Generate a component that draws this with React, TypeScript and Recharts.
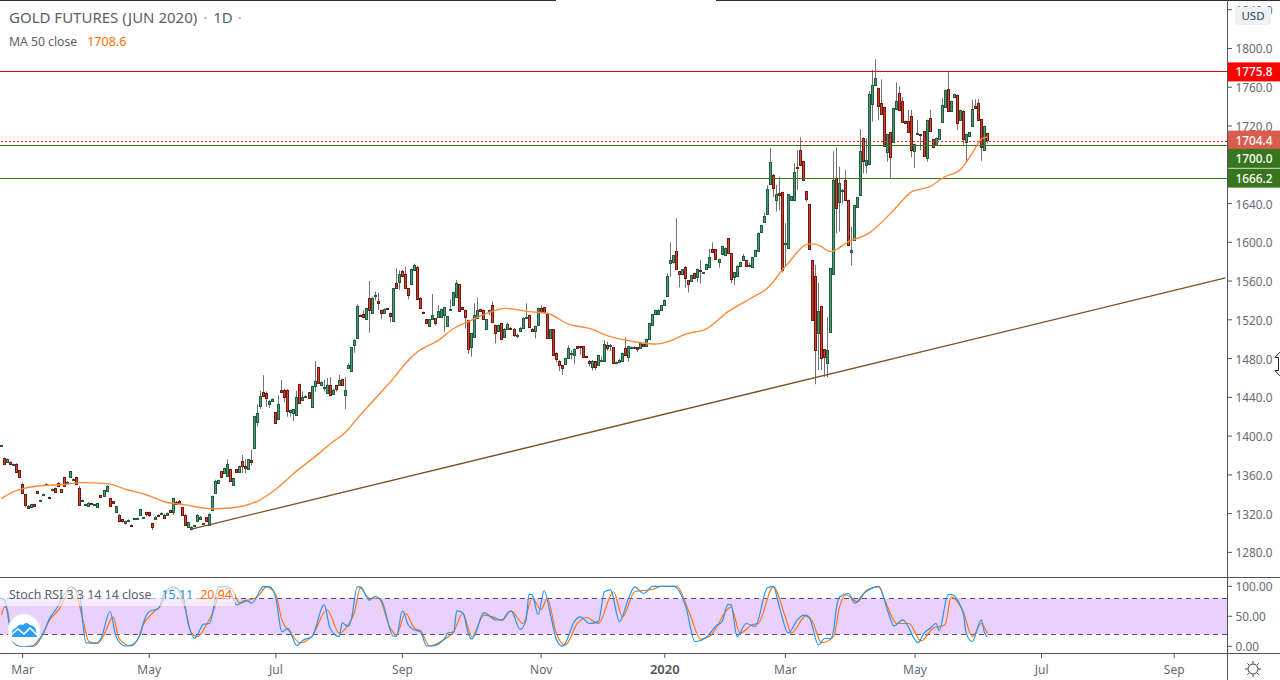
import {
  Bar,
  ComposedChart,
  Line,
  ReferenceArea,
  ReferenceLine,
  XAxis,
  YAxis,
} from "recharts";

const font = '"Noto Sans", sans-serif';
const axisGrey = "#666974";
const borderGrey = "#50535e";

// daily candles
const opens = [
  1389.8, 1377, 1373.5, 1373, 1370, 1371, 1364.6, 1351, 1340, 1328,
  1327, 1329.5, 1343, 1333.5, 1339.6, 1349.5, 1337, 1344.6, 1346.8, 1352,
  1345, 1357.4, 1352.6, 1358, 1355.6, 1357.4, 1346, 1333.6, 1329.2, 1328,
  1331, 1329.2, 1327, 1339, 1338.5, 1343.7, 1335.8, 1332.7, 1322, 1319,
  1314, 1310.6, 1313, 1308.6, 1314.6, 1314.6, 1319, 1315.6, 1321.3, 1321.3,
  1310, 1314.8, 1319, 1320.6, 1319, 1318.6, 1323.4, 1322, 1332.3, 1332.7,
  1326.5, 1319, 1306.5, 1303.8, 1307.6, 1312, 1314.8, 1309.6, 1316, 1308,
  1323.7, 1341.6, 1352, 1363.6, 1362, 1359, 1365.7, 1350, 1365.7, 1362.6,
  1374, 1368.8, 1366.4, 1375, 1387.4, 1415, 1431.4, 1446, 1444, 1433.4,
  1436, 1424.5, 1417.3, 1448, 1448, 1448, 1424.8, 1424, 1421.4, 1453.4,
  1436.9, 1441.3, 1445, 1429.6, 1451.3, 1470.9, 1453, 1450.2, 1444.8, 1452.4,
  1443.7, 1452.4, 1453, 1458.5, 1442.7, 1470.2, 1466.8, 1494.3, 1500.9, 1524.8,
  1525.6, 1520.5, 1542, 1526.7, 1545.6, 1539, 1529.7, 1526.7, 1531.8, 1526.7,
  1518.4, 1557.6, 1558.7, 1570, 1566.9, 1552.5, 1556.6, 1571.4, 1574.8, 1543,
  1527.9, 1520.5, 1513.2, 1521, 1521.5, 1523.2, 1523.2, 1524.6, 1513.2, 1531,
  1535, 1544, 1556.6, 1532.8, 1529.8, 1519.4, 1492.3, 1502.6, 1521.5, 1530.8,
  1529.8, 1510.8, 1529.4, 1535, 1514.3, 1508.8, 1516.3, 1502, 1511, 1512,
  1511, 1503.6, 1508, 1512, 1522.1, 1524.6, 1511, 1508, 1514.3, 1531.8,
  1532.8, 1525.6, 1501.5, 1510, 1486, 1477.8, 1473, 1474.7, 1480.9, 1485.5,
  1484, 1492.6, 1492.6, 1492.6, 1482.3, 1478, 1471, 1477, 1473, 1478.6,
  1478, 1493.6, 1493.2, 1491.5, 1475.6, 1476, 1478, 1490.5, 1482, 1491.6,
  1491.6, 1491.5, 1490.5, 1494.6, 1492.6, 1499.8, 1514.6, 1526.3, 1526.3, 1529.7,
  1535.2, 1544.2, 1578.2, 1579.3, 1590.6, 1570, 1566.9, 1575, 1560.7, 1559.7,
  1567.9, 1563.8, 1571, 1568.6, 1572, 1574, 1592.7, 1592.7, 1579.3, 1587.5,
  1586.5, 1604, 1588.6, 1563.8, 1564.8, 1575.8, 1581.3, 1581.3, 1576.6, 1575,
  1585.5, 1590.6, 1610.2, 1620.5, 1628.9, 1660.5, 1669.8, 1643.4, 1650.6, 1651.6,
  1599.4, 1594.5, 1643.4, 1643.4, 1677.8, 1695, 1683.6, 1652.6, 1639.2, 1581.4,
  1565, 1506, 1534, 1489.6, 1475, 1507.8, 1567, 1665, 1642, 1653.6,
  1664, 1643.4, 1589.7, 1602.8, 1636, 1648.5, 1707.3, 1679.5, 1680.5, 1742.4,
  1762, 1759, 1743.5, 1739.3, 1692.9, 1713.5, 1703.2, 1737.3, 1753.8, 1745.5,
  1724.9, 1724.9, 1730, 1694, 1712.1, 1711.5, 1714.6, 1686.7, 1728, 1706.3,
  1700, 1706.3, 1723.9, 1739.3, 1757.9, 1735.2, 1749.6, 1751.7, 1725.9, 1735.2,
  1703.2, 1709.4, 1719.7, 1740.4, 1743.5, 1726.9, 1695, 1712.5,
];
const closes = [
  1390.4, 1371, 1376, 1371.5, 1371, 1363, 1358, 1341.6, 1329, 1326,
  1329.6, 1328, 1341.6, 1334, 1340, 1351, 1336.5, 1345, 1342.6, 1348.8,
  1342.6, 1348.8, 1353, 1363.6, 1356, 1351, 1329, 1334, 1329.6, 1331,
  1330, 1329.6, 1330.6, 1337, 1344, 1349, 1328, 1331, 1327.5, 1312.7,
  1312, 1312, 1313.4, 1308.2, 1315, 1315, 1324.4, 1316, 1320, 1318.6,
  1306.5, 1317, 1318.6, 1321, 1315.8, 1320.3, 1322, 1335.8, 1329.6, 1330.6,
  1318.9, 1308.6, 1311, 1306.5, 1308, 1318.2, 1317, 1310, 1312.7, 1320,
  1337.8, 1353.3, 1354.3, 1358, 1366.7, 1370.8, 1354, 1356.4, 1362.6, 1368.8,
  1369.5, 1367.4, 1376, 1373.6, 1420.7, 1423.5, 1441.4, 1441.7, 1439, 1436,
  1438.3, 1414, 1432.7, 1446, 1440.6, 1426, 1426.5, 1427.6, 1440, 1434.5,
  1440.3, 1441.7, 1439, 1451.3, 1456.5, 1454.4, 1455.8, 1450.6, 1452.4, 1442.7,
  1448, 1449, 1457.5, 1453, 1448, 1473, 1491.6, 1499, 1533.9, 1524.6,
  1523.2, 1531.8, 1529.8, 1543, 1546, 1537.7, 1526.7, 1530.8, 1530.8, 1523.6,
  1552.5, 1552.5, 1566.9, 1564.8, 1552.5, 1545.2, 1572, 1576.2, 1541, 1531.8,
  1527.7, 1516.3, 1520.5, 1524.6, 1517, 1528.7, 1530.8, 1532.8, 1523.6, 1531.5,
  1548.3, 1557.6, 1528.7, 1531.5, 1523.2, 1489.5, 1506, 1524.6, 1529.8, 1529.4,
  1521, 1520.5, 1529.8, 1518, 1506, 1514.3, 1500.5, 1511, 1515.3, 1510,
  1504.6, 1504, 1512, 1521.5, 1522.5, 1512.9, 1508, 1513.2, 1531.8, 1528.4,
  1528.4, 1500.9, 1510, 1483.3, 1480, 1473.7, 1470.6, 1480.2, 1490.5, 1485.7,
  1489.5, 1491.2, 1491.8, 1481.2, 1481.2, 1475, 1478, 1471, 1483.3, 1479,
  1494.6, 1490.5, 1493.6, 1475.7, 1476, 1479, 1485.4, 1483.3, 1492.6, 1492,
  1492, 1489.5, 1495.6, 1492.6, 1499.8, 1516.3, 1525.6, 1529.7, 1530.4, 1534.9,
  1540, 1564.8, 1581.3, 1586.5, 1572, 1566.9, 1572, 1562.8, 1556.6, 1565.9,
  1562.8, 1572, 1570, 1569, 1577.2, 1584.4, 1589.6, 1582.4, 1582.4, 1595.8,
  1593.7, 1588.6, 1561.7, 1569, 1576, 1579.3, 1585.5, 1576, 1577, 1584.4,
  1591.7, 1609.2, 1617.5, 1626.7, 1654.7, 1682.6, 1655.7, 1649.5, 1648.5, 1571.8,
  1599.7, 1649.5, 1647.5, 1672.2, 1676.4, 1679.5, 1664, 1645, 1593.5, 1519.5,
  1488.6, 1528.8, 1480.3, 1482, 1488.5, 1573.2, 1664, 1635, 1660.9, 1654,
  1643.4, 1596.9, 1591.8, 1638.2, 1646.4, 1693.9, 1683.6, 1684.6, 1752.7, 1762,
  1769.3, 1740.4, 1732, 1699, 1711.5, 1687.7, 1738.3, 1745.5, 1736.2, 1723.9,
  1722.8, 1713.5, 1695, 1701.1, 1712.5, 1711.1, 1688.8, 1725.9, 1714.6, 1698,
  1707.3, 1716.6, 1741.4, 1756.9, 1735.2, 1745.5, 1752.7, 1722.8, 1736.2, 1706.3,
  1711.5, 1713.5, 1737.3, 1738.3, 1725.9, 1698, 1719.7, 1705.3,
];
const highs = [
  1391, 1378, 1377, 1374, 1371.5, 1372, 1365, 1352, 1340.5, 1328.5,
  1330, 1330, 1343.5, 1334.5, 1340.5, 1351.5, 1337.5, 1346, 1347, 1352.5,
  1345.5, 1358, 1353.5, 1364, 1356.5, 1358, 1348.5, 1334.5, 1330, 1332,
  1331.5, 1330, 1331, 1339.5, 1344.5, 1349.5, 1336.5, 1333, 1328, 1319.5,
  1314.5, 1313, 1314, 1309, 1315.5, 1315.5, 1325, 1316.5, 1322, 1322,
  1310.5, 1317.5, 1319.5, 1321.5, 1319.5, 1321, 1324, 1336.5, 1333, 1334,
  1327, 1319.5, 1311.5, 1307, 1308.5, 1319.5, 1317.5, 1310.5, 1316.5, 1320.5,
  1338.5, 1355, 1355, 1364, 1367.5, 1376, 1366.5, 1357, 1366, 1369.5,
  1380.5, 1376, 1376.5, 1386, 1421, 1433, 1446.8, 1463, 1446, 1437,
  1439, 1425, 1442, 1457.9, 1449, 1448.5, 1427, 1428, 1446.5, 1454,
  1446, 1442.5, 1445.5, 1452, 1477.5, 1471.5, 1456.5, 1458, 1460, 1461,
  1449, 1453, 1463, 1459, 1461, 1475, 1492, 1500, 1536, 1525.5,
  1530, 1532.5, 1560, 1544, 1549, 1548, 1530.5, 1532, 1532.5, 1527.5,
  1553, 1573, 1571, 1571.5, 1574.8, 1553, 1573, 1578, 1575.5, 1543.5,
  1528.5, 1521, 1521, 1546.6, 1522, 1535, 1531.5, 1533.5, 1524, 1541,
  1549, 1561, 1557, 1533.5, 1530.5, 1520, 1506.5, 1537, 1542.8, 1531.5,
  1530.5, 1521, 1530.5, 1539, 1515, 1515, 1517, 1511.5, 1517, 1512.5,
  1511.5, 1505.5, 1512.5, 1522.5, 1537, 1525.5, 1511.5, 1514, 1532.5, 1535,
  1533.5, 1526, 1510.5, 1510.5, 1486.5, 1478.5, 1473.5, 1481, 1493.5, 1488.8,
  1490.5, 1493, 1493, 1493, 1483, 1478.5, 1478.5, 1477.5, 1484, 1482,
  1499, 1497.4, 1495, 1492, 1477, 1479.5, 1486, 1501.9, 1493, 1492.5,
  1492.5, 1492, 1496.5, 1495, 1500.5, 1517, 1526, 1530.5, 1531, 1535.5,
  1541, 1568, 1599.9, 1587, 1624.7, 1570.5, 1572.5, 1575.5, 1561, 1566.5,
  1568.5, 1573, 1581.7, 1569.5, 1578, 1593, 1599.9, 1593, 1583, 1596.5,
  1594.5, 1604.5, 1589, 1569.5, 1576.5, 1580, 1588, 1582, 1579, 1585,
  1592.5, 1610, 1618, 1631, 1659, 1697, 1670.5, 1659, 1667.8, 1652,
  1619.6, 1650, 1648, 1681.5, 1695, 1708.4, 1684, 1653, 1639.7, 1582,
  1576.6, 1558, 1534.5, 1490, 1523, 1573.7, 1694, 1698, 1678, 1655,
  1674.5, 1644, 1616, 1639, 1647, 1716.6, 1708, 1707, 1756, 1778,
  1788.9, 1759.5, 1768, 1740, 1712, 1714, 1739, 1765, 1761, 1750,
  1725.5, 1736.6, 1736.6, 1702, 1726, 1712, 1715, 1726.5, 1736.6, 1707,
  1708, 1717, 1748.6, 1757.5, 1776, 1746, 1753.5, 1752.5, 1737, 1736,
  1712, 1714, 1747, 1747.6, 1748, 1727.5, 1720.5, 1713,
];
const lows = [
  1389.5, 1370, 1372.5, 1371, 1369.5, 1362, 1357, 1341, 1326.5, 1325.5,
  1326.5, 1327.5, 1341, 1333, 1339, 1349, 1336, 1343, 1342, 1348,
  1342, 1348, 1352, 1357.5, 1355, 1350.5, 1328.5, 1333, 1328, 1327,
  1329.5, 1329, 1326.5, 1336.5, 1338, 1343, 1327.5, 1330.5, 1321.5, 1311,
  1310.5, 1308.6, 1312.5, 1306, 1314, 1314, 1318.5, 1315, 1317, 1316.8,
  1303, 1314, 1318, 1320, 1315, 1318, 1321.5, 1318.6, 1329, 1330,
  1318, 1308, 1306, 1302.4, 1306.5, 1311.5, 1314, 1309, 1312, 1307.5,
  1323, 1341, 1351.5, 1357.5, 1361, 1358.5, 1353.5, 1349.5, 1362, 1362,
  1362, 1361.6, 1366, 1370, 1387, 1409.7, 1428, 1441, 1430, 1429,
  1435.5, 1413.5, 1417, 1445.5, 1435, 1420, 1420, 1415.5, 1421, 1434,
  1436, 1440.5, 1438.5, 1429, 1446, 1454, 1452, 1446, 1444, 1442,
  1443, 1446, 1452, 1452.5, 1428, 1469, 1466.5, 1486, 1500.5, 1524,
  1522.5, 1520, 1506.7, 1526, 1540, 1530, 1520.5, 1526, 1530, 1517.4,
  1518, 1552, 1551, 1564, 1552, 1541, 1556, 1571, 1540.5, 1531,
  1527, 1515.5, 1512.5, 1520.5, 1514, 1522.5, 1522.5, 1507.7, 1512.5, 1530.5,
  1534.5, 1543.5, 1528, 1531, 1511, 1484.7, 1482, 1502, 1521, 1529,
  1520.5, 1510, 1525, 1517.5, 1495.7, 1508, 1499, 1501.5, 1510.5, 1509.5,
  1502, 1501, 1507.5, 1511.5, 1521, 1512.5, 1507.5, 1500.9, 1514, 1528,
  1528, 1500.5, 1501, 1483, 1476, 1467, 1463, 1474, 1480.5, 1479,
  1474, 1490, 1484, 1480.5, 1480.5, 1472, 1467.5, 1468, 1472.5, 1478,
  1477.5, 1488, 1488, 1475, 1474, 1475.5, 1477.5, 1483, 1477, 1491,
  1491, 1487, 1490, 1492, 1492, 1499.5, 1514, 1525.5, 1526, 1529,
  1534.5, 1544, 1564.5, 1578, 1571.5, 1553.5, 1566, 1553, 1548.3, 1559,
  1562, 1559, 1557.6, 1568, 1571.5, 1573.5, 1589, 1582, 1573.8, 1587,
  1586, 1588, 1557.5, 1555.9, 1564, 1575, 1581, 1575.5, 1576, 1574.5,
  1585, 1590, 1609.5, 1620, 1628.5, 1660, 1647, 1631.7, 1633, 1568.7,
  1575, 1594, 1643, 1643, 1654, 1679, 1663.5, 1642, 1593, 1519,
  1453.5, 1468, 1468, 1461, 1460.7, 1507.5, 1566.5, 1609, 1611, 1640,
  1643, 1596.5, 1576, 1602, 1635.5, 1648, 1671, 1671, 1680, 1724.5,
  1761.5, 1726, 1731.5, 1698.5, 1683, 1666.7, 1702.5, 1737, 1735.5, 1723.5,
  1722, 1713, 1687.7, 1676.4, 1711.5, 1695, 1688, 1683, 1714, 1697.5,
  1699.5, 1706, 1723.5, 1739, 1735, 1734.5, 1749, 1716, 1725.5, 1700.5,
  1683, 1709, 1719, 1738, 1725.5, 1684, 1694.5, 1702,
];

// MA 50, read at the bars listed in maBars
const maBars = [0, 4, 8, 14, 21, 26, 35, 42, 48, 54, 61, 70, 76, 85, 92, 97, 104, 109, 115, 118, 122, 126, 130, 134, 138, 145, 150, 156, 161, 167, 175, 181, 188, 195, 202, 210, 217, 221, 227, 234, 241, 249, 254, 260, 268, 271, 275, 281, 288, 296, 302, 308, 313, 318, 322, 325, 327];
const maValues = [1335.4, 1342.6, 1346.4, 1349, 1350, 1352, 1351, 1344.4, 1339.5, 1332.3, 1329, 1325, 1325.8, 1333, 1347.8, 1361.6, 1378.8, 1391.8, 1406.9, 1418.3, 1432, 1445.8, 1459.6, 1475, 1487, 1499, 1511, 1519.8, 1526.7, 1531.8, 1528.4, 1526.7, 1515.6, 1511.2, 1502.6, 1497.4, 1495, 1497.4, 1505.3, 1511, 1528.4, 1543, 1552.5, 1574.9, 1598.3, 1597, 1590.4, 1600.7, 1610, 1633.4, 1652.3, 1657.5, 1667.8, 1674.7, 1691.9, 1706.3, 1708.6];

// trend line ends
const trendBars = [63, 406];
const trendValues = [1304, 1563.2];

// Stoch RSI, %K and %D read at their turning points
const kBars = [0, 1, 2, 3, 4, 6, 10, 12, 14, 16, 18, 21, 23, 26, 27, 28, 31, 33, 36, 38, 41, 43, 46, 47, 49, 52, 54, 57, 60, 62, 64, 65, 67, 69, 72, 75, 78, 81, 83, 87, 89, 91, 93, 95, 98, 100, 103, 107, 109, 112, 113, 115, 116, 118, 119, 122, 124, 126, 130, 131, 133, 135, 137, 139, 141, 143, 147, 148, 150, 151, 153, 155, 156, 157, 160, 164, 166, 168, 169, 172, 174, 175, 176, 178, 180, 182, 184, 186, 187, 190, 192, 195, 198, 200, 202, 205, 208, 210, 213, 216, 223, 227, 230, 234, 237, 239, 241, 242, 244, 247, 250, 254, 256, 258, 261, 264, 266, 268, 271, 273, 275, 276, 277, 278, 281, 283, 286, 291, 294, 296, 299, 304, 306, 308, 310, 311, 314, 315, 319, 320, 322, 325, 326, 327];
const kValues = [80, 77, 55, 22, 6, 0.5, 0, 8, 24, 47, 61, 88, 99, 85, 38, 6, 5, 13, 58, 16, 0.5, 2, 19, 38, 58, 63, 88, 99, 88, 36, 13, 19, 37, 38, 99, 100, 69, 77, 72, 100, 99, 80, 24, 30, 1, 10, 16, 69, 30, 16, 39, 33, 44, 99, 99, 77, 83, 77, 17, 17, 59, 35, 27, 24, 0.5, 0.5, 13, 22, 24, 59, 56, 19, 12, 19, 56, 44, 44, 56, 59, 28, 44, 87, 86, 53, 93, 55, 12, 0, 5, 41, 49, 38, 41, 91, 94, 41, 80, 99, 88, 100, 100, 66, 8, 16, 34, 41, 70, 69, 16, 38, 33, 97, 100, 66, 22, 44, 52, 47, 2, 13, 13, 27, 66, 82, 88, 72, 88, 100, 58, 34, 44, 6, 22, 30, 38, 26, 86, 86, 55, 22, 8, 44, 24, 15.11];
const dBars = [0, 1, 2, 3, 5, 7, 11, 13, 16, 19, 22, 24, 27, 29, 32, 34, 37, 39, 43, 45, 47, 50, 53, 55, 58, 61, 63, 65, 68, 70, 73, 76, 79, 82, 85, 88, 91, 93, 96, 99, 103, 108, 112, 115, 117, 119, 122, 125, 129, 131, 134, 137, 139, 142, 147, 150, 153, 156, 160, 164, 166, 169, 173, 176, 179, 181, 184, 187, 191, 194, 198, 203, 206, 210, 216, 219, 224, 228, 232, 235, 242, 245, 249, 251, 256, 260, 262, 267, 269, 272, 276, 278, 280, 284, 287, 291, 293, 297, 301, 305, 309, 313, 315, 319, 322, 325, 327];
const dValues = [52, 66, 61, 24, 2, 0, 0.5, 13, 44, 61, 88, 97, 44, 8, 5, 19, 49, 13, 0.5, 10, 36, 55, 69, 91, 97, 61, 22, 16, 36, 55, 94, 97, 72, 77, 83, 99, 86, 44, 22, 6, 17, 61, 22, 36, 55, 97, 80, 80, 30, 19, 55, 30, 26, 0.5, 12, 24, 55, 16, 52, 47, 43, 59, 38, 80, 61, 80, 22, 2, 38, 48, 38, 91, 49, 91, 95, 100, 100, 58, 12, 17, 65, 22, 36, 38, 99, 49, 22, 52, 41, 6, 16, 66, 86, 74, 94, 99, 77, 38, 38, 9, 30, 36, 82, 58, 16, 38, 20.94];

const priceTicks = [1840, 1800, 1760, 1720, 1640, 1600, 1560, 1520, 1480, 1440, 1400, 1360, 1320, 1280];
const tagPrices = [1775.8, 1704.4, 1700, 1666.2];
const tagColors = ["#ff0000", "#d95c4c", "#38761d", "#38761d"];
const tagShifts = [0, -1, 13, 0];
const stochTicks = [100, 50, 0];
const timeBars = [7, 49, 91, 133, 179, 220, 260, 303, 345, 389];
const timeLabels = ["Mar", "May", "Jul", "Sep", "Nov", "2020", "Mar", "May", "Jul", "Sep"];

// empty bars keep room on the right of the last candle, as on the original time scale
const barCount = 407;

const at = (bars: number[], values: number[], i: number) => {
  const k = bars.indexOf(i);
  return k >= 0 ? values[k] : null;
};

const rows = Array.from({ length: barCount }, (_, i) => ({
  i,
  open: i < opens.length ? opens[i] : null,
  close: i < opens.length ? closes[i] : null,
  high: i < opens.length ? highs[i] : null,
  low: i < opens.length ? lows[i] : null,
  range: i < opens.length ? [lows[i], highs[i]] : null,
  ma: at(maBars, maValues, i),
  trend: at(trendBars, trendValues, i),
  k: at(kBars, kValues, i),
  d: at(dBars, dValues, i),
}));

function Candle(props: any) {
  const { x, y, width, height, payload } = props;
  if (payload.open == null || y == null) return null;
  const top = Math.min(y, y + height);
  const span = Math.abs(height);
  const perUnit = span / (payload.high - payload.low);
  const yOf = (v: number) => top + (payload.high - v) * perUnit;
  const up = payload.close >= payload.open;
  const left = Math.round(x + width / 2 - 1.5);
  const bodyTop = Math.round(yOf(Math.max(payload.open, payload.close)));
  const bodyBottom = Math.round(yOf(Math.min(payload.open, payload.close)));
  return (
    <g>
      <line x1={left + 1.5} x2={left + 1.5} y1={top} y2={top + span} stroke="#737373" strokeWidth={1} />
      <rect
        x={left + 0.5}
        y={bodyTop + 0.5}
        width={2}
        height={Math.max(bodyBottom - bodyTop, 1)}
        fill={up ? "#4f9a70" : "#d8432f"}
        stroke={up ? "#1f5c3f" : "#6e1a10"}
        strokeWidth={1}
      />
    </g>
  );
}

function PriceTick(props: any) {
  const { y, payload } = props;
  const tag = tagPrices.indexOf(payload.value);
  if (tag >= 0) {
    const cy = y + tagShifts[tag];
    return (
      <g>
        <rect x={1228} y={cy - 9.5} width={52} height={19} fill={tagColors[tag]} />
        <text x={1235.5} y={cy + 4.5} fill="#ffffff" fontFamily={font} fontSize={11.8} fontWeight={500}>
          {payload.value.toFixed(1)}
        </text>
      </g>
    );
  }
  return (
    <g>
      <line x1={1227} x2={1232} y1={y} y2={y} stroke={borderGrey} />
      <text x={1235.5} y={y + 5} fill={axisGrey} fontFamily={font} fontSize={11.8}>
        {payload.value.toFixed(1)}
      </text>
    </g>
  );
}

function StochTick(props: any) {
  const { y, payload } = props;
  return (
    <g>
      <line x1={1227} x2={1232} y1={y} y2={y} stroke={borderGrey} />
      <text x={1235.5} y={y + 5} fill={axisGrey} fontFamily={font} fontSize={11.8}>
        {payload.value.toFixed(2)}
      </text>
    </g>
  );
}

function TimeTick(props: any) {
  const { x, payload } = props;
  const label = timeLabels[timeBars.indexOf(payload.value)];
  return (
    <g>
      <line x1={x} x2={x} y1={75} y2={80} stroke={borderGrey} />
      <text
        x={x}
        y={96}
        textAnchor="middle"
        fill={label === "2020" ? "#50535e" : axisGrey}
        fontFamily={font}
        fontSize={label === "2020" ? 13 : 12}
        fontWeight={label === "2020" ? 600 : 400}
      >
        {label}
      </text>
    </g>
  );
}

function PriceChart() {
  return (
    <ComposedChart width={1280} height={577} data={rows} margin={{ top: 0, right: 0, bottom: 0, left: 0 }} barCategoryGap={0}>
      <XAxis dataKey="i" type="category" scale="band" hide />
      <YAxis
        orientation="right"
        width={53}
        type="number"
        domain={[1254.6, 1850]}
        allowDataOverflow
        ticks={[...priceTicks, ...tagPrices]}
        interval={0}
        axisLine={false}
        tickLine={false}
        tick={<PriceTick />}
      />
      <ReferenceLine y={1775.8} stroke="#e60000" strokeWidth={1} shapeRendering="crispEdges" />
      <ReferenceLine y={1704.4} stroke="#ee2a12" strokeWidth={1} strokeDasharray="2 2" shapeRendering="crispEdges" />
      <ReferenceLine y={1700} stroke="#38761d" strokeWidth={1} shapeRendering="crispEdges" />
      <ReferenceLine y={1666.2} stroke="#38761d" strokeWidth={1} shapeRendering="crispEdges" />
      <Line dataKey="trend" stroke="#7f4f24" strokeWidth={1.3} dot={false} connectNulls type="linear" isAnimationActive={false} />
      <Bar dataKey="range" shape={<Candle />} isAnimationActive={false} />
      <Line dataKey="ma" stroke="#ff8a3c" strokeWidth={1.4} dot={false} connectNulls type="monotone" isAnimationActive={false} />
    </ComposedChart>
  );
}

function StochChart() {
  return (
    <ComposedChart width={1280} height={102} data={rows} margin={{ top: 0, right: 0, bottom: 0, left: 0 }}>
      <XAxis
        dataKey="i"
        type="category"
        scale="band"
        height={27}
        ticks={timeBars}
        interval={0}
        axisLine={false}
        tickLine={false}
        tick={<TimeTick />}
      />
      <YAxis
        orientation="right"
        width={53}
        type="number"
        domain={[-11.2, 113.8]}
        allowDataOverflow
        ticks={stochTicks}
        interval={0}
        axisLine={false}
        tickLine={false}
        tick={<StochTick />}
      />
      <ReferenceArea y1={20} y2={80} fill="#e9d0fd" fillOpacity={1} stroke="none" />
      <ReferenceLine y={80} stroke="#5c5068" strokeDasharray="5 4" shapeRendering="crispEdges" />
      <ReferenceLine y={20} stroke="#5c5068" strokeDasharray="5 4" shapeRendering="crispEdges" />
      <Line dataKey="d" stroke="#ff6d00" strokeWidth={1.1} dot={false} connectNulls type="monotone" isAnimationActive={false} />
      <Line dataKey="k" stroke="#2196f3" strokeWidth={1.2} dot={false} connectNulls type="monotone" isAnimationActive={false} />
    </ComposedChart>
  );
}

function line(left: number, top: number, width: number, height: number, color: string) {
  return <div style={{ position: "absolute", left, top, width, height, background: color }} />;
}

export default function App() {
  return (
    <div style={{ position: "absolute", left: 0, top: 0, width: 1280, height: 680, overflow: "hidden", background: "#fff", fontFamily: font }}>
      <div style={{ position: "absolute", left: 0, top: 0 }}>
        <PriceChart />
      </div>
      <div style={{ position: "absolute", left: 0, top: 578 }}>
        <StochChart />
      </div>

      {line(0, 0, 556, 1, "#2a2e39")}
      {line(716, 0, 564, 1, "#2a2e39")}
      {line(0, 577, 1280, 1, borderGrey)}
      {line(0, 653, 1280, 1, borderGrey)}
      {line(1227, 0, 1, 680, borderGrey)}

      <div style={{ position: "absolute", left: 9, top: 7, fontSize: 15, lineHeight: "20px", color: "#5d606b", whiteSpace: "pre" }}>
        GOLD FUTURES (JUN 2020)<span style={{ color: "#a3a6af", margin: "0 6px" }}>·</span>1D<span style={{ color: "#a3a6af", marginLeft: 5 }}>·</span>
      </div>
      <div style={{ position: "absolute", left: 9, top: 33, fontSize: 12.2, lineHeight: "18px", color: "#5d606b", whiteSpace: "pre" }}>
        MA 50 close<span style={{ color: "#ff6d00", marginLeft: 10, fontSize: 12.5 }}>1708.6</span>
      </div>

      <div style={{ position: "absolute", left: 0, top: 585, width: 235, height: 21, background: "rgba(255,255,255,0.6)" }} />
      <div style={{ position: "absolute", left: 9, top: 586, fontSize: 12.4, lineHeight: "18px", color: "#5d606b", whiteSpace: "pre" }}>
        Stoch RSI 3 3 14 14 close<span style={{ color: "#2196f3", marginLeft: 10 }}>15.11</span><span style={{ color: "#ff6d00", marginLeft: 7 }}>20.94</span>
      </div>

      <div style={{ position: "absolute", left: 1235, top: 7, width: 36, height: 18, borderRadius: 3, background: "#eef2f8", color: "#3a3d47", fontSize: 11.5, lineHeight: "18px", textAlign: "center" }}>
        USD
      </div>

      <svg style={{ position: "absolute", left: 0, top: 610 }} width={50} height={42}>
        <circle cx={24} cy={20} r={16} fill="#fff" stroke="#eeeeee" />
        <path d="M12 27 L12 23 Q12 19 16 18 Q19 13 23 15 Q26 11 30 15 Q36 16 36 21 L37 27 Z" fill="#2a9df4" />
        <polyline points="11,25 18,19 24,24 30,18 37,25" fill="none" stroke="#fff" strokeWidth={1.6} />
      </svg>

      <svg style={{ position: "absolute", left: 1244, top: 660 }} width={18} height={18}>
        <circle cx={9} cy={9} r={5} fill="none" stroke="#3a3d47" />
        <path d="M9 1V3.5M9 14.5V17M1 9H3.5M14.5 9H17M3.3 3.3L5 5M13 13L14.7 14.7M14.7 3.3L13 5M5 13L3.3 14.7" stroke="#3a3d47" />
      </svg>

      <svg style={{ position: "absolute", left: 1274, top: 352 }} width={6} height={24}>
        <path d="M1 5.5 L5.5 0.5 L6 0.5 M1 18.5 L5.5 23.5 L6 23.5 M1 5.5 L4.5 5.5 L4.5 18.5 L1 18.5" fill="#fff" stroke="#222" strokeWidth={1} />
      </svg>
    </div>
  );
}
